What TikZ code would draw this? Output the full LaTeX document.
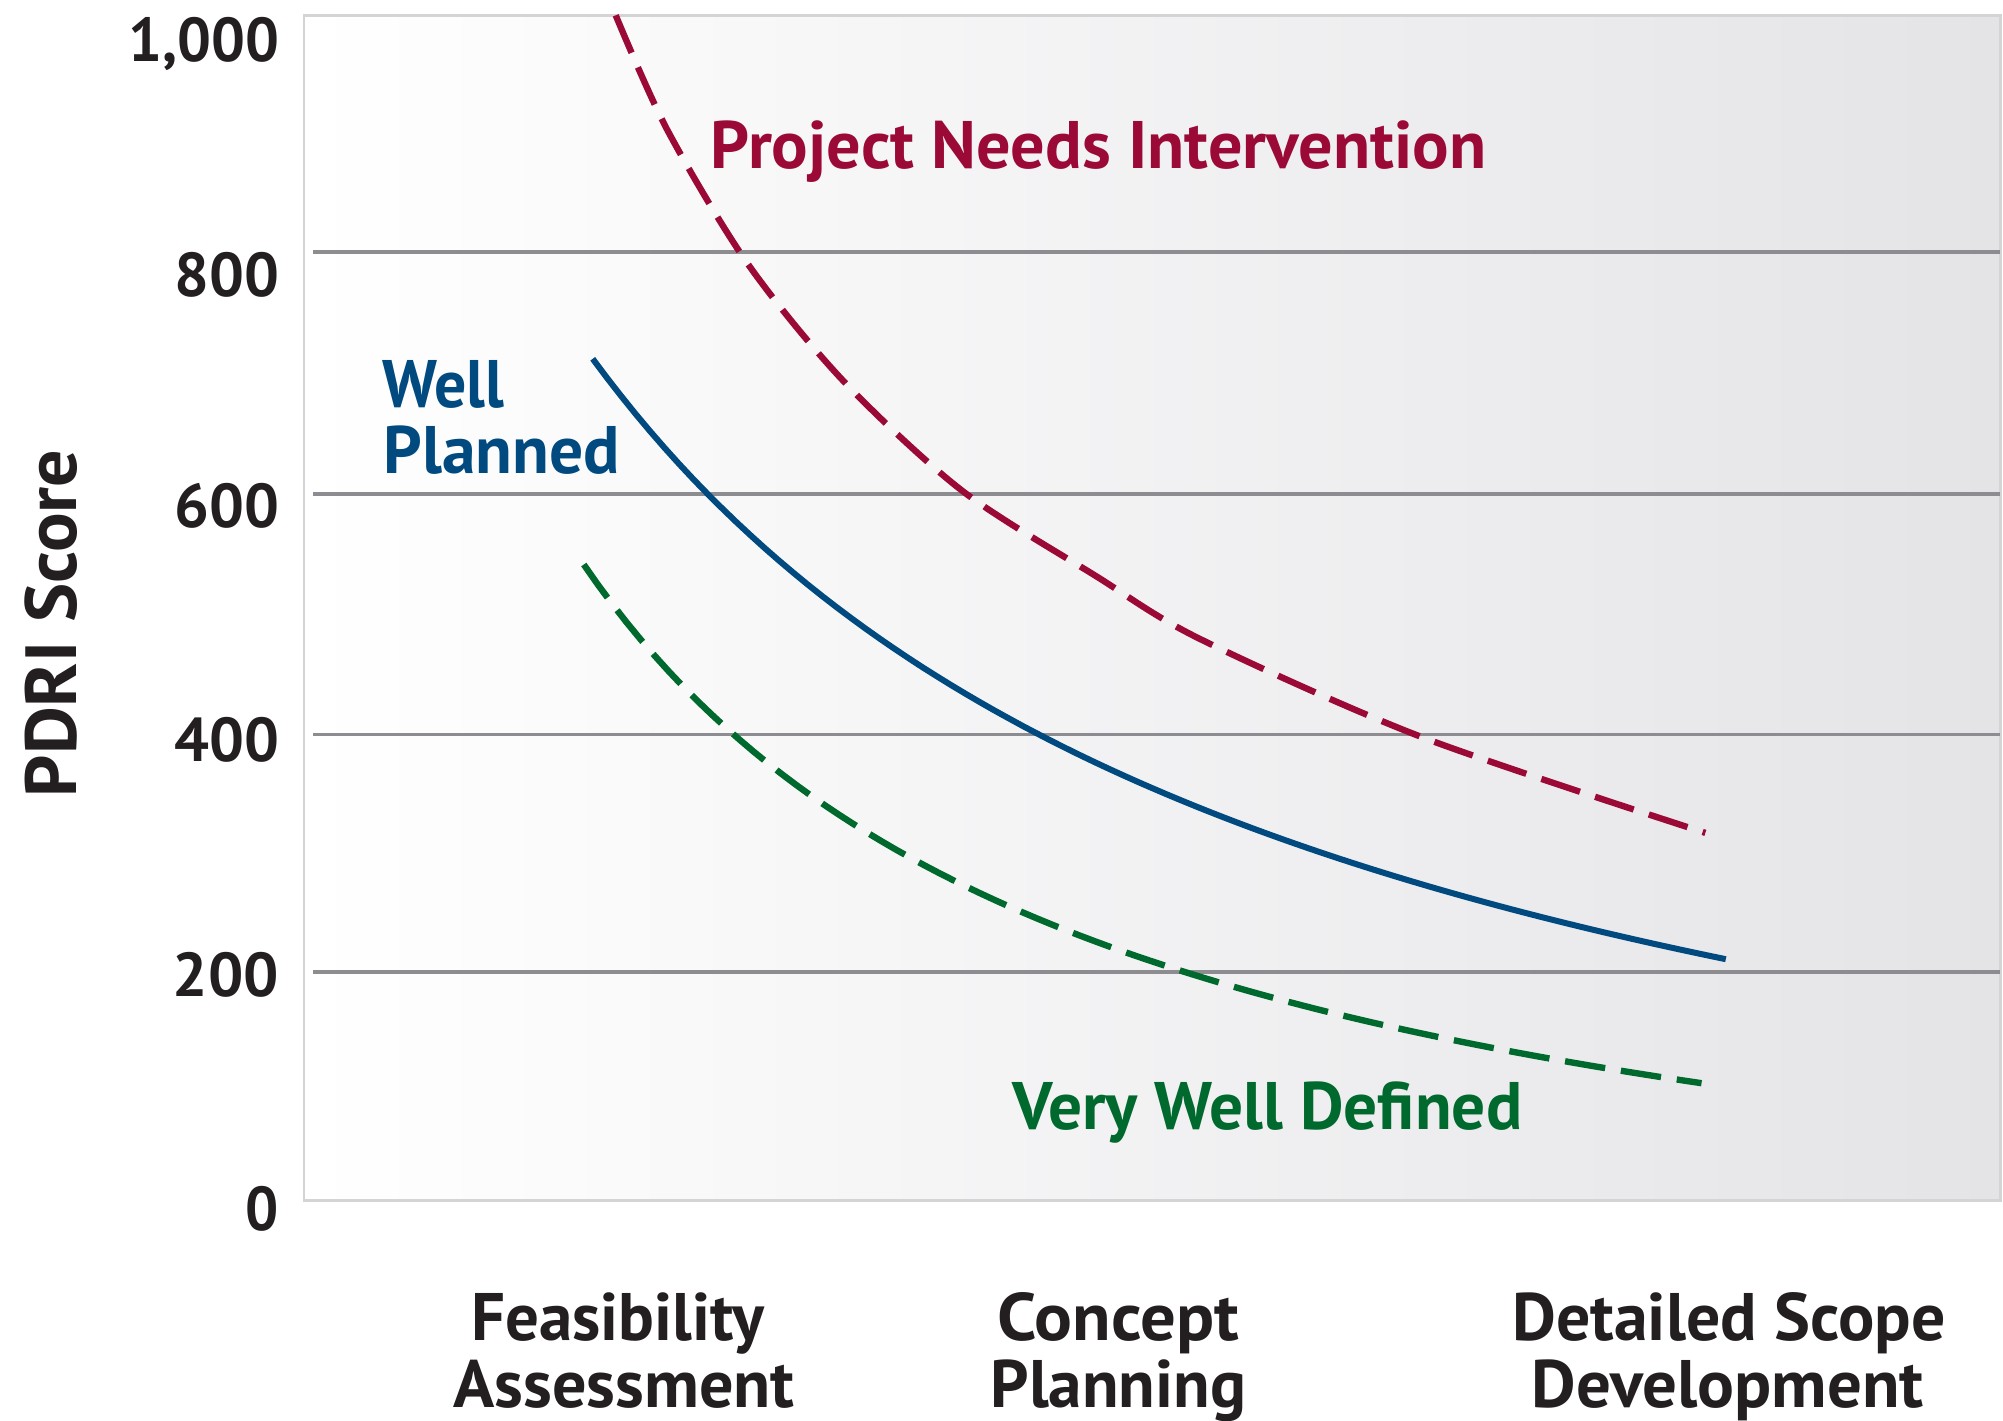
\documentclass[tikz,border=0pt]{standalone}
\usepackage{fontspec}
\setmainfont{PT Sans}
\definecolor{ink}{RGB}{35,31,32}
\definecolor{redc}{RGB}{155,10,55}
\definecolor{bluec}{RGB}{0,74,128}
\definecolor{greenc}{RGB}{0,105,45}
\definecolor{gridgray}{RGB}{140,140,145}
\definecolor{framegray}{RGB}{212,212,215}
\definecolor{bgright}{RGB}{228,228,231}
\newsavebox\fitbox
\newlength\fitlen
\newcommand\fitw[2]{\sbox\fitbox{#2}\setlength\fitlen{\wd\fitbox}\pgfmathsetmacro\fitr{#1*0.36135/\fitlen}\scalebox{\fitr}[1]{\usebox\fitbox}}
\tikzset{
  ticklbl/.style={anchor=base east, inner sep=0pt, text=ink, font=\fontsize{17.5}{20}\selectfont\bfseries},
  xlbl/.style={anchor=base, inner sep=0pt, text=ink, font=\fontsize{19}{22}\selectfont\bfseries},
  curvelbl/.style={anchor=base west, inner sep=0pt, font=\fontsize{19}{22}\selectfont\bfseries},
  gridln/.style={draw=gridgray, line width=1.1pt},
  dashcurve/.style={line width=1.8pt, dash pattern=on 11.5pt off 4.5pt},
  solidcurve/.style={line width=1.7pt},
}
\begin{document}
\begin{tikzpicture}[x=0.0127cm, y=-0.0127cm]
\useasboundingbox (0,0) rectangle (1568,1112);
% plot area
\shade[left color=white, right color=bgright] (238,12) rectangle (1566,940);
\draw[framegray, line width=0.8pt] (238,12) rectangle (1566,940);
% grid lines
\foreach \yy in {197,387,575,761} {
  \draw[gridln] (245,\yy) -- (1566,\yy);
}
% tick labels
\node[ticklbl] (t1000) at (219,48) {\fitw{118}{1,000}};
\node[ticklbl] (t800) at (219,232) {\fitw{82}{800}};
\node[ticklbl] (t600) at (219,413) {\fitw{82}{600}};
\node[ticklbl] (t400) at (219,596) {\fitw{82}{400}};
\node[ticklbl] (t200) at (219,780) {\fitw{83}{200}};
\node[ticklbl] (t0) at (219,963) {\fitw{26}{0}};
% axis title
\node[rotate=90, anchor=base, inner sep=0pt, text=ink, font=\fontsize{20.5}{24}\selectfont\bfseries] (ytitle) at (60,488) {\fitw{272}{PDRI Score}};
% curves
\draw[dashcurve, redc] plot[smooth, tension=0.5] coordinates {(482,12) (522,101) (585,206) (660,298) (753,384) (858,451) (939,500) (1113,577) (1335,652)};
\draw[solidcurve, bluec] plot[domain=464:1351, samples=80] (\x, {1049.7 - 433.579/((\x+100)/1000)});
\draw[dashcurve, greenc] plot[domain=457:1332, samples=80] (\x, {1036.8 - 242.1/((\x-50)/1000)});
% curve labels
\node[curvelbl, text=redc] (lred) at (556,132) {\fitw{607}{Project Needs Intervention}};
\node[curvelbl, text=bluec] (lblue1) at (299,319) {\fitw{95}{Well}};
\node[curvelbl, text=bluec] (lblue2) at (300,371) {\fitw{185}{Planned}};
\node[curvelbl, text=greenc] (lgreen) at (792,884) {\fitw{399}{Very Well Defined}};
% x labels
\node[xlbl] (xa1) at (483.5,1049) {\fitw{229}{Feasibility}};
\node[xlbl] (xa2) at (488.5,1102) {\fitw{267}{Assessment}};
\node[xlbl] (xb1) at (875.5,1049) {\fitw{189}{Concept}};
\node[xlbl] (xb2) at (875.5,1102) {\fitw{200}{Planning}};
\node[xlbl] (xc1) at (1353.5,1049) {\fitw{339}{Detailed Scope}};
\node[xlbl] (xc2) at (1352.5,1102) {\fitw{307}{Development}};
\end{tikzpicture}
\end{document}
